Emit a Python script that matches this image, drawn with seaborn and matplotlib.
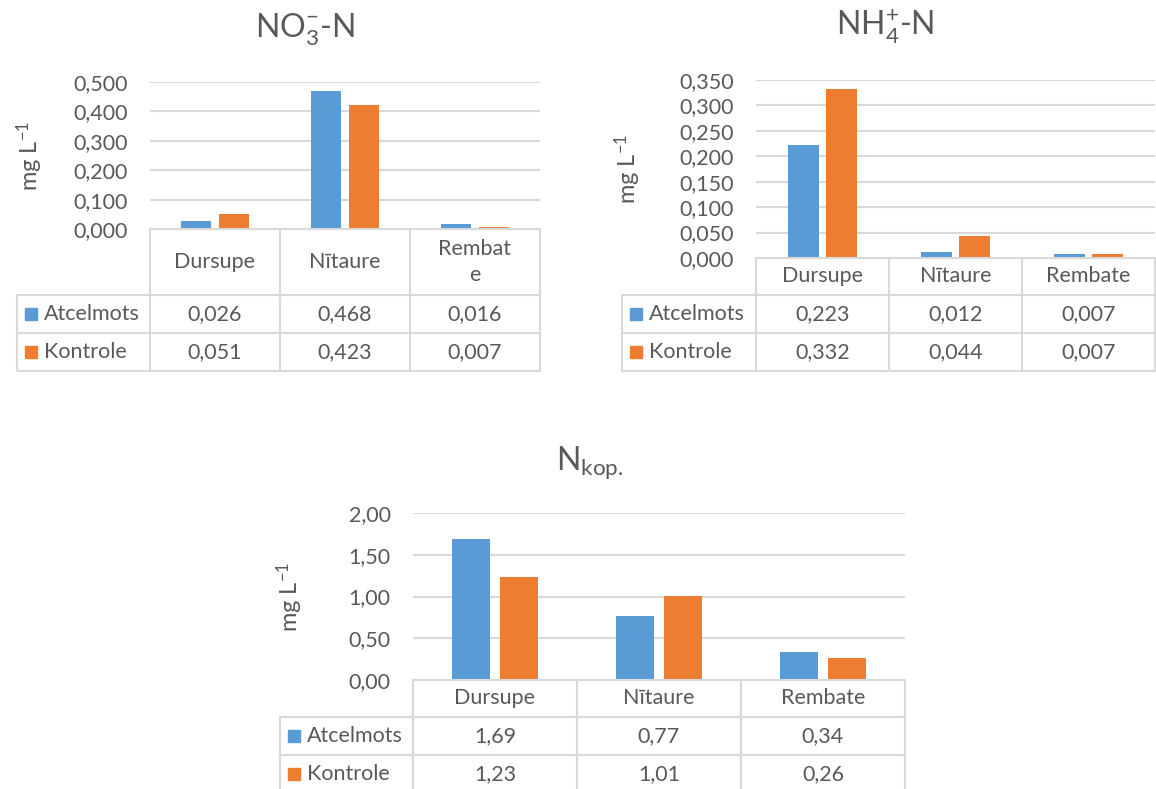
import numpy as np
import pandas as pd
import matplotlib
matplotlib.use("Agg")
import matplotlib.pyplot as plt
from matplotlib.lines import Line2D
from matplotlib.patches import Rectangle
import seaborn as sns

# data
categories = ["Dursupe", "Nītaure", "Rembate"]
series = ["Atcelmots", "Kontrole"]

no3_atcelmots = [0.026, 0.468, 0.016]
no3_kontrole = [0.051, 0.423, 0.007]
nh4_atcelmots = [0.223, 0.012, 0.007]
nh4_kontrole = [0.332, 0.044, 0.007]
nkop_atcelmots = [1.69, 0.77, 0.34]
nkop_kontrole = [1.23, 1.01, 0.26]

# first chart has the last category label wrapped in its table cell
no3_labels = ["Dursupe", "Nītaure", "Rembat\ne"]

BLUE = "#5B9BD5"
ORANGE = "#ED7D31"
TXT = "#595959"
GRID = "#D9D9D9"

W, H = 1156, 789

sns.set_theme(style="white")
plt.rcParams["font.family"] = ["Lato", "DejaVu Sans"]
plt.rcParams["mathtext.fontset"] = "custom"
plt.rcParams["mathtext.rm"] = "Lato"
plt.rcParams["mathtext.it"] = "Lato:italic"
plt.rcParams["mathtext.bf"] = "Lato:bold"
plt.rcParams["mathtext.default"] = "regular"

fig = plt.figure(figsize=(W / 100, H / 100), dpi=100)


def fx(x):
    return x / W


def fy(y):
    return 1 - y / H


def line(x0, x1, y0, y1):
    fig.add_artist(Line2D([fx(x0), fx(x1)], [fy(y0), fy(y1)],
                          color=GRID, lw=1.5, transform=fig.transFigure))


def draw_chart(atc, kon, labels, ymax, step, dec, title, geo):
    left, right, top, bottom = geo["left"], geo["right"], geo["top"], geo["bottom"]
    ax = fig.add_axes([fx(left), fy(bottom), (right - left) / W, (bottom - top) / H])

    df = pd.DataFrame({
        "category": categories * 2,
        "series": [series[0]] * 3 + [series[1]] * 3,
        "value": atc + kon,
    })
    sns.barplot(data=df, x="category", y="value", hue="series",
                palette=[BLUE, ORANGE], saturation=1, width=0.58, gap=0.2,
                linewidth=0, legend=False, ax=ax)

    ax.set_xlim(-0.5, 2.5)
    ax.set_ylim(0, ymax)
    ticks = np.arange(0, ymax + step / 2, step)
    ax.set_yticks(ticks)
    ax.set_yticklabels([f"{t:.{dec}f}".replace(".", ",") for t in ticks],
                       fontsize=15.5, color=TXT)
    ax.set_xticks([])
    ax.set_xlabel("")
    ax.set_ylabel("")
    ax.tick_params(axis="y", length=0, pad=16)
    ax.yaxis.grid(True, color=GRID, lw=1.5)
    ax.set_axisbelow(True)
    for s in ["top", "right", "left"]:
        ax.spines[s].set_visible(False)
    ax.spines["bottom"].set_color(GRID)
    ax.spines["bottom"].set_linewidth(1.5)

    # title and y label
    fig.text(fx(geo["title_x"]), fy(geo["title_y"]), title, fontsize=23,
             color=TXT, ha="center", va="center")
    fig.text(fx(geo["ylab_x"]), fy((top + bottom) / 2), r"mg L$^{-1}$",
             fontsize=17, color=TXT, rotation=90, ha="center", va="center")

    # data table under the axis
    edges = np.linspace(left, right, 4)
    leg = geo["legcol"]
    cat_b = geo["cat_bottom"]
    rows = [cat_b, cat_b + 38, cat_b + 76]
    for x in edges:
        line(x, x, bottom, rows[-1])
    line(leg, leg, cat_b, rows[-1])
    for y in rows:
        line(leg, right, y, y)

    centers = (edges[:-1] + edges[1:]) / 2
    for c, lab in zip(centers, labels):
        fig.text(fx(c), fy((bottom + cat_b) / 2), lab, fontsize=15.5, color=TXT,
                 ha="center", va="center", linespacing=1.35)

    for r, (name, vals, col) in enumerate(zip(series, [atc, kon], [BLUE, ORANGE])):
        yc = (rows[r] + rows[r + 1]) / 2
        fig.add_artist(Rectangle((fx(leg + 8), fy(yc + 6)), 12 / W, 12 / H,
                                 color=col, transform=fig.transFigure))
        fig.text(fx(leg + 27), fy(yc), name, fontsize=15.5, color=TXT,
                 ha="left", va="center")
        for c, v in zip(centers, vals):
            fig.text(fx(c), fy(yc), f"{v:.{dec}f}".replace(".", ","),
                     fontsize=15.5, color=TXT, ha="center", va="center")
    return ax


draw_chart(no3_atcelmots, no3_kontrole, no3_labels, 0.5, 0.1, 3,
           r"NO$_3^{-}$-N",
           dict(left=150, right=540, top=82, bottom=229, legcol=17,
                cat_bottom=295, title_x=305, title_y=30, ylab_x=30))

draw_chart(nh4_atcelmots, nh4_kontrole, categories, 0.35, 0.05, 3,
           r"NH$_4^{+}$-N",
           dict(left=756, right=1155, top=80, bottom=258, legcol=622,
                cat_bottom=295, title_x=885, title_y=27, ylab_x=628))

draw_chart(nkop_atcelmots, nkop_kontrole, categories, 2.0, 0.5, 2,
           r"N$_{kop.}$",
           dict(left=413, right=905, top=513, bottom=680, legcol=280,
                cat_bottom=717, title_x=590, title_y=463, ylab_x=290))

fig.savefig("out.png", dpi=100, facecolor="white")
